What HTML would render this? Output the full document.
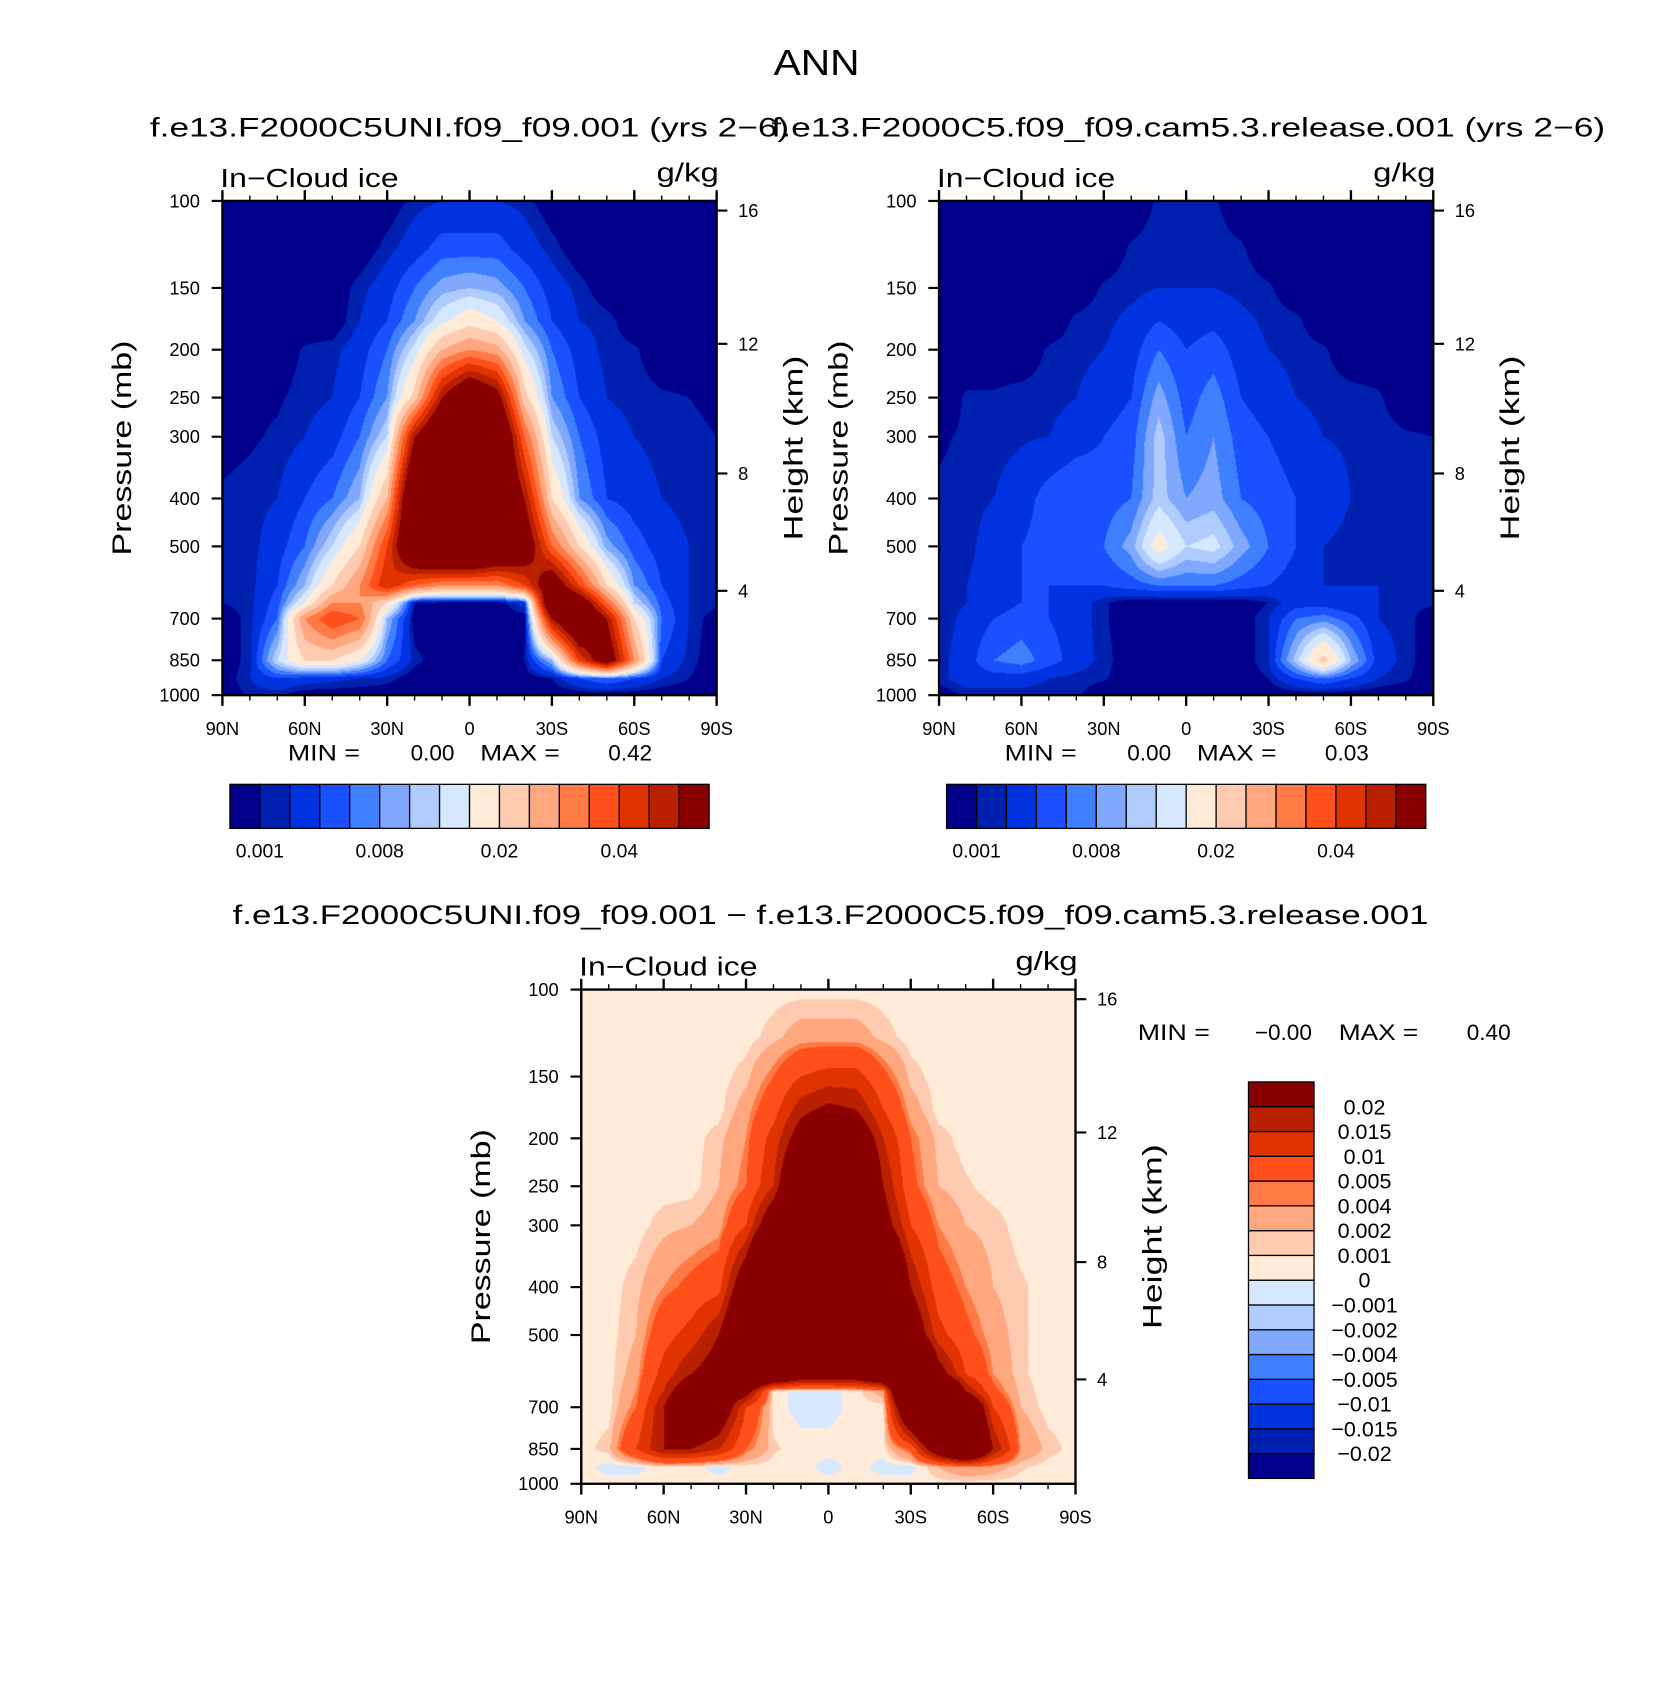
<!DOCTYPE html>
<html><head><meta charset="utf-8">
<style>
html,body{margin:0;padding:0;background:#fff;}
#root{position:absolute;left:0;top:0;width:1545px;height:1571px;transform:scale(1.07443);transform-origin:0 0;}
canvas{position:absolute;}
svg{position:absolute;left:0;top:0;}
text{font-family:"Liberation Sans",sans-serif;fill:#000;}
</style></head>
<body>
<div id="root">
<canvas id="c1" width="460" height="460" style="left:207px;top:187px;width:460px;height:460px"></canvas>
<canvas id="c2" width="460" height="460" style="left:874px;top:187px;width:460px;height:460px"></canvas>
<canvas id="c3" width="460" height="460" style="left:541px;top:921px;width:460px;height:460px"></canvas>
<svg id="svg" width="1545" height="1571" viewBox="0 0 1545 1571"></svg>
</div>
<script>
// ---- data ----
const lats = [90,80,70,60,50,40,30,20,10,0,-10,-20,-30,-40,-50,-60,-70,-80,-90];
const pLevels = [100,125,150,175,200,250,300,400,500,600,650,700,850,925,1000];
const pTicks = [100,150,200,250,300,400,500,700,850,1000];
const latTicks = [90,60,30,0,-30,-60,-90];
const latTickLabels = ["90N","60N","30N","0","30S","60S","90S"];
const heightTicks = [16,12,8,4];
const heightTickP = [104.6,194.6,356,615];
const levelsAbs = [0.001,0.002,0.004,0.006,0.008,0.01,0.012,0.015,0.02,0.025,0.03,0.035,0.04,0.045,0.05];
const levelsAbsLabels = ["0.001","","","","0.008","","","","0.02","","","","0.04","",""];
const levelsDiff = [-0.02,-0.015,-0.01,-0.005,-0.004,-0.002,-0.001,0,0.001,0.002,0.004,0.005,0.01,0.015,0.02];
const levelsDiffLabels = ["\u22120.02","\u22120.015","\u22120.01","\u22120.005","\u22120.004","\u22120.002","\u22120.001","0","0.001","0.002","0.004","0.005","0.01","0.015","0.02"];
const colors = ["#00008a","#0020b0","#0033e0","#1a50ff","#4080ff","#80a8ff","#b0ccff","#d6e8ff","#ffebd8","#ffcbb0","#ffa880","#ff7a45","#ff4f1a","#e03300","#b82000","#8a0000"];

const ctl = [
[0,0,0,0,0,0,0,0.0015,0.002,0.002,0.002,0.0015,0,0,0,0,0,0,0],
[0,0,0,0,0,0,0.0015,0.003,0.005,0.005,0.005,0.003,0.0015,0,0,0,0,0,0],
[0,0,0,0,0,0.0015,0.003,0.006,0.009,0.01,0.009,0.006,0.003,0.0015,0,0,0,0,0],
[0,0,0,0,0,0.002,0.004,0.008,0.014,0.018,0.015,0.008,0.004,0.002,0.0015,0,0,0,0],
[0,0,0,0.0012,0.0015,0.003,0.006,0.013,0.025,0.03,0.027,0.013,0.006,0.003,0.0015,0.0012,0,0,0],
[0.0008,0.0008,0.0008,0.0015,0.002,0.004,0.008,0.022,0.05,0.065,0.055,0.022,0.008,0.004,0.002,0.0015,0.0012,0.001,0.0008],
[0.0005,0.0008,0.0012,0.002,0.003,0.006,0.012,0.05,0.07,0.07,0.07,0.035,0.012,0.006,0.003,0.002,0.0015,0.0012,0.001],
[0.0012,0.0015,0.002,0.004,0.006,0.01,0.025,0.07,0.08,0.08,0.07,0.05,0.02,0.008,0.004,0.003,0.002,0.0015,0.0015],
[0.0012,0.0015,0.003,0.006,0.012,0.02,0.04,0.07,0.08,0.08,0.07,0.06,0.035,0.02,0.009,0.005,0.003,0.002,0.0015],
[0.0012,0.0015,0.004,0.01,0.02,0.03,0.045,0.035,0.03,0.03,0.03,0.04,0.06,0.04,0.02,0.008,0.004,0.002,0.0015],
[0.001,0.0015,0.005,0.015,0.03,0.03,0.02,0.001,0,0,0,0.003,0.07,0.06,0.035,0.012,0.005,0.002,0.0015],
[0,0.0015,0.006,0.03,0.04,0.035,0.01,0,0,0,0,0,0.05,0.07,0.05,0.02,0.006,0.002,0],
[0,0.0015,0.012,0.02,0.02,0.015,0.006,0.0015,0,0,0,0.001,0.01,0.04,0.06,0.03,0.004,0.0015,0],
[0,0.002,0.004,0.003,0.0025,0.002,0.0015,0,0,0,0,0,0.001,0.004,0.006,0.004,0.002,0.001,0],
[0,0.0012,0.0012,0,0,0,0,0,0,0,0,0,0,0,0,0,0,0,0]
];
const tst = [
[0,0,0,0,0,0,0,0,0.0012,0.0012,0.0012,0,0,0,0,0,0,0,0],
[0,0,0,0,0,0,0,0.0012,0.0015,0.0015,0.0015,0.0012,0,0,0,0,0,0,0],
[0,0,0,0,0,0,0.0012,0.0015,0.002,0.002,0.002,0.0015,0.0012,0,0,0,0,0,0],
[0,0,0,0,0,0.0013,0.0016,0.0025,0.004,0.003,0.0035,0.0025,0.0016,0.0013,0,0,0,0,0],
[0,0,0,0,0.0012,0.0015,0.002,0.003,0.006,0.004,0.005,0.003,0.002,0.0015,0.0012,0,0,0,0],
[0,0.0012,0.0012,0.0015,0.0015,0.002,0.003,0.004,0.009,0.005,0.007,0.004,0.003,0.002,0.0015,0.0015,0.0012,0,0],
[0.0008,0.0012,0.0015,0.0018,0.002,0.003,0.004,0.005,0.011,0.006,0.008,0.005,0.004,0.003,0.002,0.0018,0.0015,0.0012,0.001],
[0.0012,0.0015,0.002,0.003,0.005,0.006,0.005,0.006,0.011,0.008,0.009,0.006,0.005,0.004,0.003,0.002,0.0015,0.0015,0.0012],
[0.0012,0.0015,0.003,0.004,0.005,0.005,0.006,0.009,0.017,0.012,0.013,0.009,0.006,0.004,0.002,0.0015,0.002,0.0015,0.0012],
[0.0012,0.002,0.003,0.004,0.004,0.004,0.004,0.005,0.006,0.006,0.006,0.005,0.004,0.003,0.002,0.002,0.002,0.0015,0.0012],
[0.0012,0.002,0.003,0.004,0.004,0.003,0.0012,0,0,0,0,0,0.001,0.003,0.003,0.002,0.002,0.0015,0.0012],
[0.0012,0.0025,0.004,0.005,0.004,0.003,0.0012,0,0,0,0,0,0.002,0.006,0.007,0.005,0.002,0.0015,0],
[0.0015,0.003,0.006,0.007,0.005,0.003,0.0015,0,0,0,0,0,0.002,0.011,0.022,0.01,0.003,0.0015,0],
[0.0015,0.003,0.003,0.003,0.002,0.0015,0.0012,0,0,0,0,0,0.001,0.004,0.006,0.004,0.002,0.0012,0],
[0,0.0012,0.0012,0.0012,0.0012,0.0012,0,0,0,0,0,0,0,0,0,0,0,0,0]
];
const dif = [
[0.0005,0.0005,0.0005,0.0005,0.0005,0.0005,0.0005,0.0005,0.0005,0.0005,0.0005,0.0005,0.0005,0.0005,0.0005,0.0005,0.0005,0.0005,0.0005],
[0.0005,0.0005,0.0005,0.0005,0.0005,0.0005,0.0005,0.0015,0.003,0.003,0.003,0.0015,0.0005,0.0005,0.0005,0.0005,0.0005,0.0005,0.0005],
[0.0005,0.0005,0.0005,0.0005,0.0005,0.0005,0.0015,0.005,0.01,0.012,0.012,0.006,0.0015,0.0005,0.0005,0.0005,0.0005,0.0005,0.0005],
[0.0005,0.0005,0.0005,0.0005,0.0005,0.0005,0.003,0.008,0.018,0.022,0.02,0.01,0.003,0.0005,0.0005,0.0005,0.0005,0.0005,0.0005],
[0.0005,0.0005,0.0005,0.0005,0.0005,0.0015,0.004,0.012,0.025,0.03,0.03,0.015,0.005,0.0015,0.0005,0.0005,0.0005,0.0005,0.0005],
[0.0005,0.0005,0.0005,0.0005,0.0005,0.002,0.005,0.015,0.04,0.05,0.045,0.02,0.006,0.002,0.0012,0.0005,0.0005,0.0005,0.0005],
[0.0005,0.0005,0.0005,0.0015,0.002,0.003,0.01,0.03,0.06,0.06,0.06,0.025,0.01,0.004,0.002,0.0015,0.0005,0.0005,0.0005],
[0.0005,0.0005,0.0015,0.004,0.006,0.008,0.03,0.07,0.07,0.07,0.07,0.05,0.02,0.007,0.004,0.002,0.0012,0.0005,0.0005],
[0.0005,0.0005,0.002,0.008,0.012,0.02,0.04,0.07,0.07,0.07,0.07,0.06,0.03,0.012,0.006,0.003,0.0012,0.0005,0.0005],
[0.0005,0.0005,0.003,0.012,0.02,0.025,0.045,0.04,0.03,0.03,0.03,0.04,0.06,0.025,0.01,0.004,0.0012,0.0005,0.0005],
[0.0005,0.0005,0.004,0.015,0.03,0.03,0.025,0.0005,-0.0005,-0.0005,0.0005,0.003,0.06,0.05,0.02,0.006,0.0015,0.0005,0.0005],
[0.0005,0.0005,0.005,0.02,0.04,0.03,0.01,0.0005,-0.0005,-0.0005,0.0005,0.0005,0.04,0.06,0.04,0.01,0.002,0.0005,0.0005],
[0.0005,0.0015,0.01,0.02,0.02,0.015,0.005,0.0012,0.0005,0.0005,0.0005,0.0005,0.006,0.03,0.05,0.02,0.004,0.0015,0.0005],
[0.0005,-0.0005,-0.0005,0.0008,0.0005,-0.0005,0.0005,0.0005,0.0005,-0.0005,0.0005,-0.0005,-0.0005,0.002,0.004,0.003,0.0012,0.0005,0.0005],
[0.0005,0.0005,0.0005,0.0005,0.0005,0.0005,0.0005,0.0005,0.0005,0.0005,0.0005,0.0005,0.0005,0.0005,0.0005,0.0005,0.0005,0.0005,0.0005]
];

// ---- drawing ----
const NS = "http://www.w3.org/2000/svg";
const svg = document.getElementById('svg');
const PW = 460, PH = 460;
function xScale(x0, lat){ return x0 + (90 - lat) / 180 * PW; }
function yScale(y0, p){ return y0 + Math.log10(p / 100) * PH; }
function el(tag, attrs, parent){ const e = document.createElementNS(NS, tag); for (const k in attrs) e.setAttribute(k, attrs[k]); (parent || svg).appendChild(e); return e; }
function txt(x, y, s, size, anchor, parent, len){ const a = {x:x, y:y, 'font-size':size, 'text-anchor':anchor||'start'}; if (len) { a.textLength = len; a.lengthAdjust = 'spacingAndGlyphs'; } const t = el('text', a, parent); t.textContent = s; return t; }
function binOf(v, lev){ let k = 0; while (k < lev.length && v >= lev[k]) k++; return k; }
function hex(c){ return [parseInt(c.substr(1,2),16), parseInt(c.substr(3,2),16), parseInt(c.substr(5,2),16)]; }
const rgb = colors.map(hex);

function fill(id, grid, lev){
  const cv = document.getElementById(id), ctx = cv.getContext('2d');
  const img = ctx.createImageData(PW, PH);
  const lp = pLevels.map(p => Math.log10(p / 100));
  for (let j = 0; j < PH; j++){
    const l = (j + 0.5) / PH;
    let r = 0; while (r < lp.length - 2 && l > lp[r+1]) r++;
    const fy = Math.min(1, Math.max(0, (l - lp[r]) / (lp[r+1] - lp[r])));
    for (let i = 0; i < PW; i++){
      const cx = (i + 0.5) / PW * (lats.length - 1);
      const c = Math.min(lats.length - 2, Math.floor(cx)), fx = cx - c;
      const v = (grid[r][c]*(1-fx) + grid[r][c+1]*fx)*(1-fy) + (grid[r+1][c]*(1-fx) + grid[r+1][c+1]*fx)*fy;
      const col = rgb[binOf(v, lev)], o = (j*PW + i)*4;
      img.data[o] = col[0]; img.data[o+1] = col[1]; img.data[o+2] = col[2]; img.data[o+3] = 255;
    }
  }
  ctx.putImageData(img, 0, 0);
}

function axes(x0, y0, name){
  const g = el('g', {});
  
  
  el('rect', {x:x0, y:y0, width:PW, height:PH, fill:'none', stroke:'#000', 'stroke-width':2.2}, g);
  for (let lat = 90; lat >= -90; lat -= 10){
    const x = xScale(x0, lat), major = lat % 30 === 0, L = major ? 10 : 5;
    el('line', {x1:x, y1:y0, x2:x, y2:y0 - L, stroke:'#000', 'stroke-width':major?2.2:1.3}, g);
    el('line', {x1:x, y1:y0+PH, x2:x, y2:y0+PH+L, stroke:'#000', 'stroke-width':major?2.2:1.3}, g);
  }
  latTicks.forEach((lat, i) => {
    const t = txt(xScale(x0, lat), y0 + PH + 37, latTickLabels[i], 17, 'middle', g);
    
    
  });
  pTicks.forEach(p => {
    const y = yScale(y0, p);
    el('line', {x1:x0, y1:y, x2:x0 - 10, y2:y, stroke:'#000', 'stroke-width':2}, g);
    const t = txt(x0 - 21, y + 6, String(p), 17, 'end', g);
    
    
  });
  heightTicks.forEach((h, i) => {
    const y = yScale(y0, heightTickP[i]);
    el('line', {x1:x0+PH, y1:y, x2:x0+PH+10, y2:y, stroke:'#000', 'stroke-width':2}, g);
    const t = txt(x0 + PW + 20, y + 6, String(h), 17, 'start', g);
    
    
  });
  const a = txt(x0 - 2, y0 - 13, 'In\u2212Cloud ice', 24, 'start', g, 166);
  
  
  const u = txt(x0 + PW + 2, y0 - 18, 'g/kg', 24, 'end', g, 58);
  
  
  const yt = txt(0, 0, 'Pressure  (mb)', 25, 'middle', g, 200);
  yt.setAttribute('transform', 'translate(' + (x0 - 85) + ',' + (y0 + 230) + ') rotate(-90)');
  
  
  const ht = txt(0, 0, 'Height  (km)', 25, 'middle', g, 172);
  ht.setAttribute('transform', 'translate(' + (x0 + PW + 80) + ',' + (y0 + 230) + ') rotate(-90)');
  
  
}

function hbar(x0, y0, name){
  const g = el('g', {});
  
  
  const w = 446 / colors.length;
  colors.forEach((c, i) => {
    const r = el('rect', {x:x0 + i*w, y:y0, width:w, height:41, fill:c, stroke:'#000', 'stroke-width':1.2}, g);
    
    
  });
  levelsAbs.forEach((v, i) => {
    if (levelsAbsLabels[i]) {
      const t = txt(x0 + (i+1)*w, y0 + 68, levelsAbsLabels[i], 18, 'middle', g);
      
      
    }
  });
}

fill('c1', ctl, levelsAbs);
fill('c2', tst, levelsAbs);
fill('c3', dif, levelsDiff);
axes(207, 187, 'control');
axes(874, 187, 'test');
axes(541, 921, 'difference');

let t;
t = txt(760, 70, 'ANN', 34, 'middle', null, 80);  
t = txt(437, 127, 'f.e13.F2000C5UNI.f09_f09.001 (yrs 2\u22126)', 25, 'middle', null, 595);  
t = txt(1106, 127, 'f.e13.F2000C5.f09_f09.cam5.3.release.001 (yrs 2\u22126)', 25, 'middle', null, 776);  
t = txt(773, 860, 'f.e13.F2000C5UNI.f09_f09.001 \u2212 f.e13.F2000C5.f09_f09.cam5.3.release.001', 25, 'middle', null, 1113);  

function minmax(x0, y, mn, mx, sz, gap, name){
  const g = el('g', {});
  
  
  txt(x0, y, 'MIN =', sz, 'start', g, 67);
  txt(x0 + gap[0], y, mn, sz, 'end', g);
  txt(x0 + gap[1], y, 'MAX =', sz, 'start', g, 74);
  txt(x0 + gap[2], y, mx, sz, 'end', g);
}
minmax(268, 708, '0.00', '0.42', 21, [155, 179, 339], 'control-min-max');
minmax(935, 708, '0.00', '0.03', 21, [155, 179, 339], 'test-min-max');
minmax(1059, 968, '\u22120.00', '0.40', 21, [162, 187, 347], 'difference-min-max');

hbar(214, 730, 'control-colorbar');
hbar(881, 730, 'test-colorbar');

// vertical diff colorbar
(function(){
  const g = el('g', {});
  
  
  const h = 369 / colors.length;
  colors.forEach((c, i) => {
    const r = el('rect', {x:1162, y:1007 + (colors.length - 1 - i)*h, width:61, height:h, fill:c, stroke:'#000', 'stroke-width':1.2}, g);
    
    
  });
  levelsDiff.forEach((v, i) => {
    const y = 1007 + (colors.length - 1 - i)*h;
    const tt = txt(1270, y + 7, levelsDiffLabels[i], 20, 'middle', g);
    
    
  });
})();
</script>
</body></html>
